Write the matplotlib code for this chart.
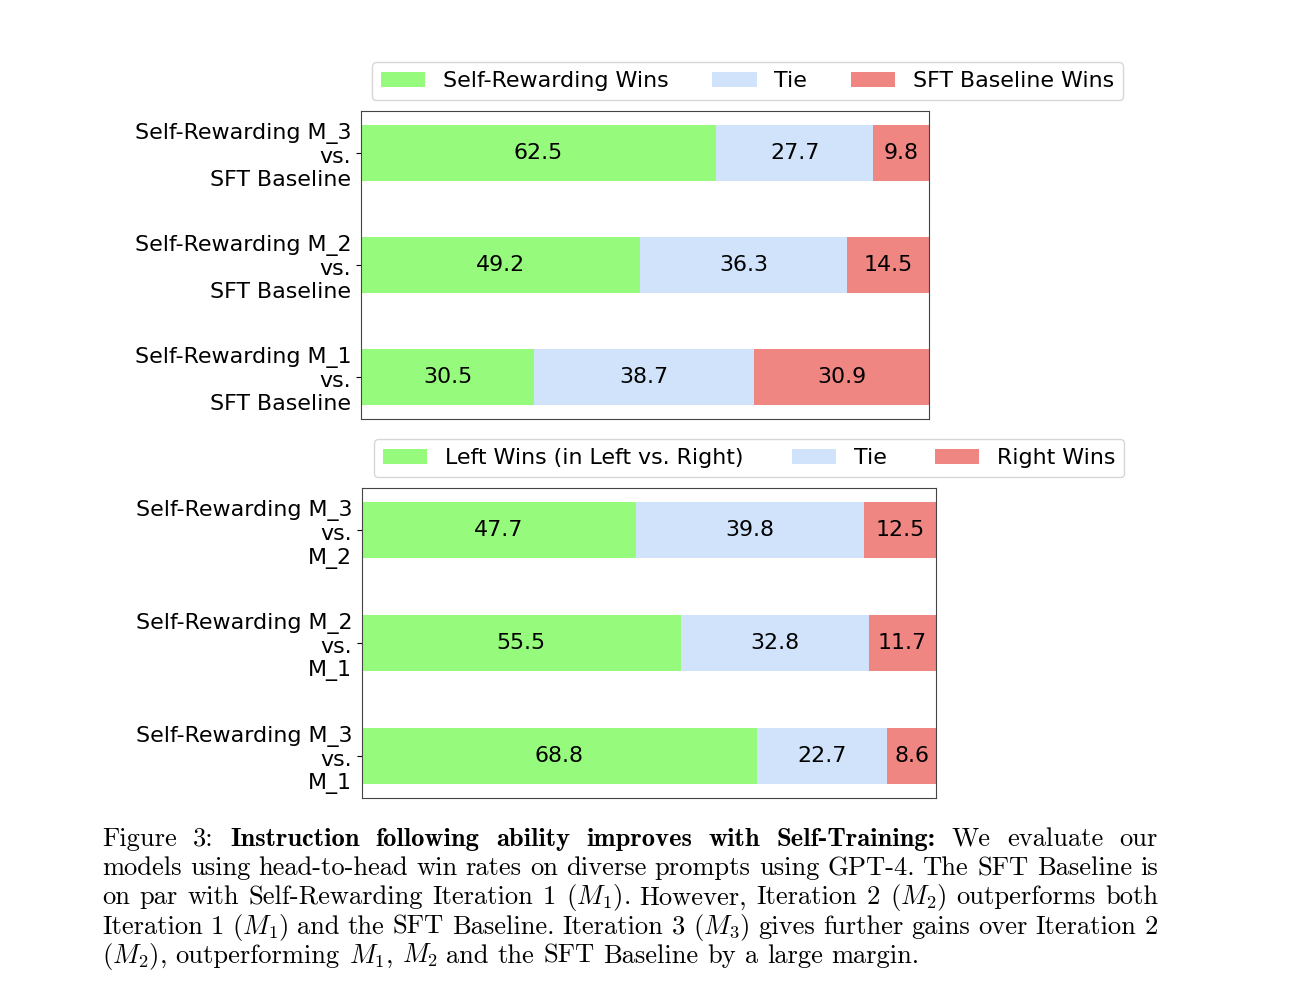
import matplotlib.pyplot as plt
import matplotlib as mpl

# 데이터
top_labels = ['Self-Rewarding M_3\nvs.\nSFT Baseline',
              'Self-Rewarding M_2\nvs.\nSFT Baseline',
              'Self-Rewarding M_1\nvs.\nSFT Baseline']
top_win = [62.5, 49.2, 30.5]
top_tie = [27.7, 36.3, 38.7]
top_lose = [9.8, 14.5, 30.9]
top_legend = ['Self-Rewarding Wins', 'Tie', 'SFT Baseline Wins']

bot_labels = ['Self-Rewarding M_3\nvs.\nM_2',
              'Self-Rewarding M_2\nvs.\nM_1',
              'Self-Rewarding M_3\nvs.\nM_1']
bot_win = [47.7, 55.5, 68.8]
bot_tie = [39.8, 32.8, 22.7]
bot_lose = [12.5, 11.7, 8.6]
bot_legend = ['Left Wins (in Left vs. Right)', 'Tie', 'Right Wins']

colors = ['#96fa7c', '#d0e3fb', '#f08682']

mpl.rcParams['font.family'] = ['DejaVu Sans']
mpl.rcParams['mathtext.fontset'] = 'cm'

W, H = 1292, 1006
FS = 15.9
fig = plt.figure(figsize=(W / 100, H / 100), dpi=100)


def stacked(rect, labels, win, tie, lose, names, legend_xy, colspace=2.0):
    ax = fig.add_axes(rect)
    left = [0] * len(labels)
    for vals, c, n in zip([win, tie, lose], colors, names):
        bars = ax.barh(labels, vals, left=left, height=0.5, color=c, label=n)
        ax.bar_label(bars, labels=['%.1f' % v for v in vals],
                     label_type='center', fontsize=FS)
        left = [a + b for a, b in zip(left, vals)]
    ax.set_xlim(0, 100)
    ax.invert_yaxis()
    ax.set_xticks([])
    ax.tick_params(axis='y', labelsize=FS)
    for s in ax.spines.values():
        s.set_color('#444444')
    fig.legend(*ax.get_legend_handles_labels(), ncol=3, fontsize=FS,
               loc='lower left', borderaxespad=0, columnspacing=colspace,
               bbox_to_anchor=(legend_xy[0] / W, 1 - legend_xy[1] / H))
    return ax


stacked([361 / W, 1 - 419 / H, 568 / W, 308 / H], top_labels,
        top_win, top_tie, top_lose, top_legend, (372, 100))
stacked([362 / W, 1 - 798 / H, 574 / W, 310 / H], bot_labels,
        bot_win, bot_tie, bot_lose, bot_legend, (374, 477), colspace=2.2)

# 캡션 (양쪽 정렬)
R = 'cmr10'
B = 'cmb10'
caption = [
    [('Figure', R), ('3:', R), ('Instruction', B), ('following', B), ('ability', B),
     ('improves', B), ('with', B), ('Self-Training:', B), ('We', R), ('evaluate', R), ('our', R)],
    [(w, R) for w in 'models using head-to-head win rates on diverse prompts using GPT-4. The SFT Baseline is'.split()],
    [(w, R) for w in r'on par with Self-Rewarding Iteration 1 ($M_1$). However, Iteration 2 ($M_2$) outperforms both'.split()],
    [(w, R) for w in r'Iteration 1 ($M_1$) and the SFT Baseline. Iteration 3 ($M_3$) gives further gains over Iteration 2'.split()],
    [(w, R) for w in r'($M_2$), outperforming $M_1$, $M_2$ and the SFT Baseline by a large margin.'.split()],
]
cap_size = 19.1
x0, x1 = 102, 1158
y0, dy = 846, 29.2
renderer = fig.canvas.get_renderer()
for i, line in enumerate(caption):
    texts = [fig.text(0, 1 - (y0 + i * dy) / H, w, fontfamily=f, fontsize=cap_size,
                      va='baseline', ha='left') for w, f in line]
    widths = [t.get_window_extent(renderer).width for t in texts]
    if i < len(caption) - 1:
        gap = (x1 - x0 - sum(widths)) / (len(texts) - 1)
    else:
        gap = 0.333 * cap_size * 100 / 72
    x = x0
    for t, w in zip(texts, widths):
        t.set_x(x / W)
        x += w + gap

fig.savefig('out.png', dpi=100)
